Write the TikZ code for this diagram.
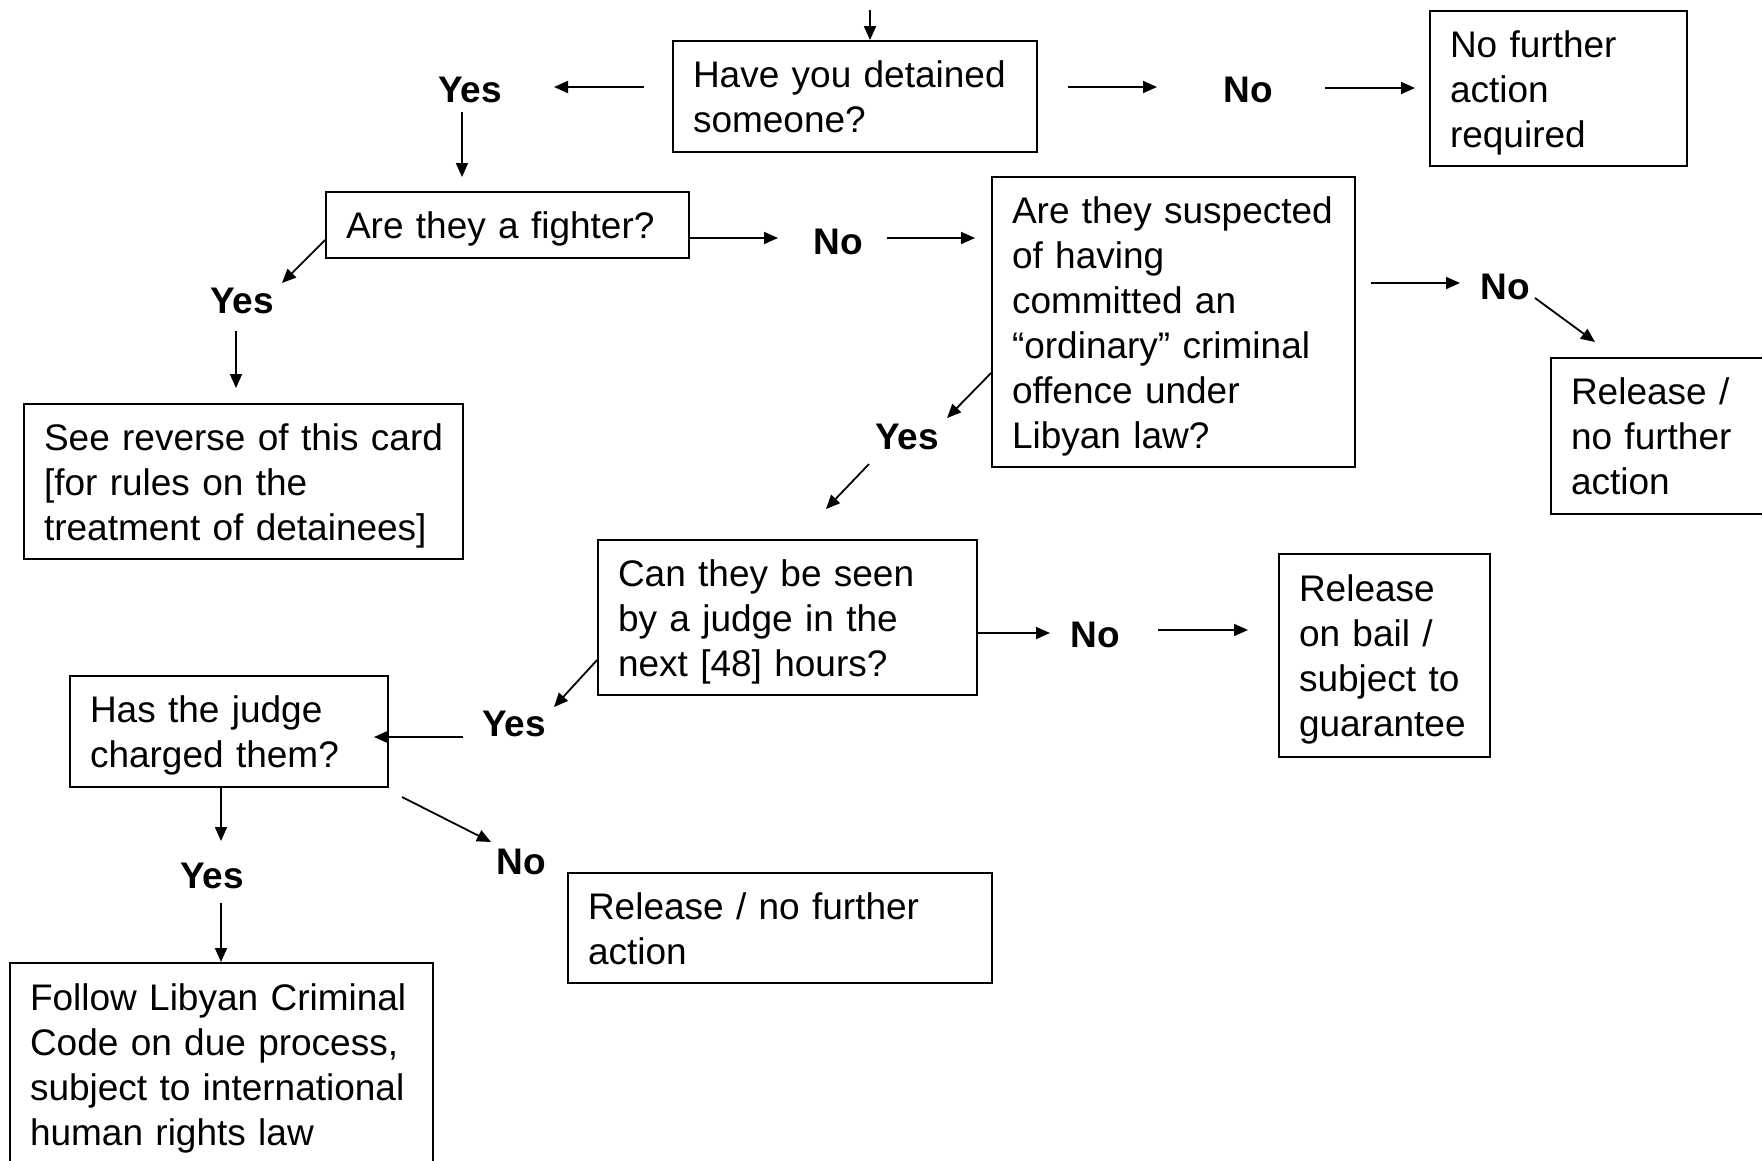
\documentclass[tikz,border=0pt]{standalone}
\usepackage{fontspec}
\setmainfont{Liberation Sans}
\usetikzlibrary{arrows.meta}
\begin{document}
\begin{tikzpicture}[x=1pt,y=-1pt,
  boxnode/.style={draw=black, line width=1.8pt, align=left, inner xsep=20pt, inner ysep=0pt,
    font=\fontsize{37pt}{45pt}\selectfont, anchor=center,
    execute at begin node={\rule{0pt}{35pt}},
    execute at end node={\rule[-8pt]{0pt}{8pt}}},
  lbl/.style={font=\fontsize{37pt}{45pt}\selectfont\bfseries, inner sep=0pt, anchor=center},
  arr/.style={line width=1.8pt, -{Triangle[length=14pt,width=12pt]}}]
\useasboundingbox (0,0) rectangle (1762,1160);
\fill[white] (0,0) rectangle (1762,1160);

% boxes
\node[boxnode, text width=324pt, minimum height=111pt] (q1) at (855,96.5) {Have you detained\\someone?};
\node[boxnode, text width=217pt, minimum height=155pt] (nfa) at (1558.5,88.5) {No further\\action\\required};
\node[boxnode, text width=323pt, minimum height=66pt] (fight) at (507.5,225) {Are they a fighter?};
\node[boxnode, text width=323pt, minimum height=290pt] (susp) at (1173.5,322) {Are they suspected\\of having\\committed an\\“ordinary” criminal\\offence under\\Libyan law?};
\node[boxnode, text width=184pt, minimum height=156pt] (relR) at (1663,436) {Release /\\no further\\action};
\node[boxnode, text width=399pt, minimum height=155pt] (see) at (243.5,481.5) {See reverse of this card\\{[}for rules on the\\treatment of detainees{]}};
\node[boxnode, text width=339pt, minimum height=155pt] (can) at (787.5,617.5) {Can they be seen\\by a judge in the\\next {[}48{]} hours?};
\node[boxnode, text width=171pt, minimum height=203pt] (bail) at (1384.5,655.5) {Release\\on bail /\\subject to\\guarantee};
\node[boxnode, text width=278pt, minimum height=111pt] (judge) at (229,731.5) {Has the judge\\charged them?};
\node[boxnode, text width=383pt, minimum height=202pt] (follow) at (221.5,1064) {Follow Libyan Criminal\\Code on due process,\\subject to international\\human rights law};
\node[boxnode, text width=384pt, minimum height=110pt] (relB) at (780,928) {Release / no further\\action};

% labels
\node[lbl] (yes1) at (470,90) {Yes};
\node[lbl] (no1) at (1248,90) {No};
\node[lbl] (noF) at (838,242) {No};
\node[lbl] (yesF) at (242,301) {Yes};
\node[lbl] (noS) at (1505,287) {No};
\node[lbl] (yesS) at (907,437) {Yes};
\node[lbl] (noC) at (1095,635) {No};
\node[lbl] (yesC) at (514,724) {Yes};
\node[lbl] (yesJ) at (212,876) {Yes};
\node[lbl] (noJ) at (521,862) {No};

% connector end points
\coordinate (t0) at (870,10);
\coordinate (a1s) at (644,87);   \coordinate (a1e) at (554,87);
\coordinate (a2s) at (1068,87);  \coordinate (a2e) at (1157,87);
\coordinate (a3s) at (1325,88);  \coordinate (a3e) at (1415,88);
\coordinate (a4s) at (462,112);  \coordinate (a4e) at (462,177);
\coordinate (a5e) at (778,238);
\coordinate (a6s) at (887,238);  \coordinate (a6e) at (975,238);
\coordinate (a7e) at (282,283);
\coordinate (a8s) at (236,331);  \coordinate (a8e) at (236,388);
\coordinate (a9e) at (1460,283);
\coordinate (a10s) at (1535,298); \coordinate (a10e) at (1595,342);
\coordinate (a11e) at (947,418);
\coordinate (a12s) at (869,464); \coordinate (a12e) at (826,509);
\coordinate (a13e) at (1050,633);
\coordinate (a14s) at (1158,630); \coordinate (a14e) at (1248,630);
\coordinate (a15e) at (554,707);
\coordinate (a16s) at (463,737); \coordinate (a16e) at (374,737);
\coordinate (a17e) at (221,841);
\coordinate (a18s) at (221,903); \coordinate (a18e) at (221,962);
\coordinate (a19s) at (402,797); \coordinate (a19e) at (491,842);

% connectors
\draw[arr] (t0) -- (t0 |- q1.north);
\draw[arr] (a1s) -- (a1e);
\draw[arr] (a2s) -- (a2e);
\draw[arr] (a3s) -- (a3e);
\draw[arr] (a4s) -- (a4e);
\draw[arr] (fight.east |- a5e) -- (a5e);
\draw[arr] (a6s) -- (a6e);
\draw[arr] (fight.west |- 0,240) -- (a7e);
\draw[arr] (a8s) -- (a8e);
\draw[arr] (susp.east |- a9e) ++(15,0) -- (a9e);
\draw[arr] (a10s) -- (a10e);
\draw[arr] (susp.west |- 0,373) -- (a11e);
\draw[arr] (a12s) -- (a12e);
\draw[arr] (can.east |- a13e) -- (a13e);
\draw[arr] (a14s) -- (a14e);
\draw[arr] (can.west |- 0,660) -- (a15e);
\draw[arr] (a16s) -- (a16e);
\draw[arr] (judge.south -| a17e) -- (a17e);
\draw[arr] (a18s) -- (a18e);
\draw[arr] (a19s) -- (a19e);
\end{tikzpicture}
\end{document}
